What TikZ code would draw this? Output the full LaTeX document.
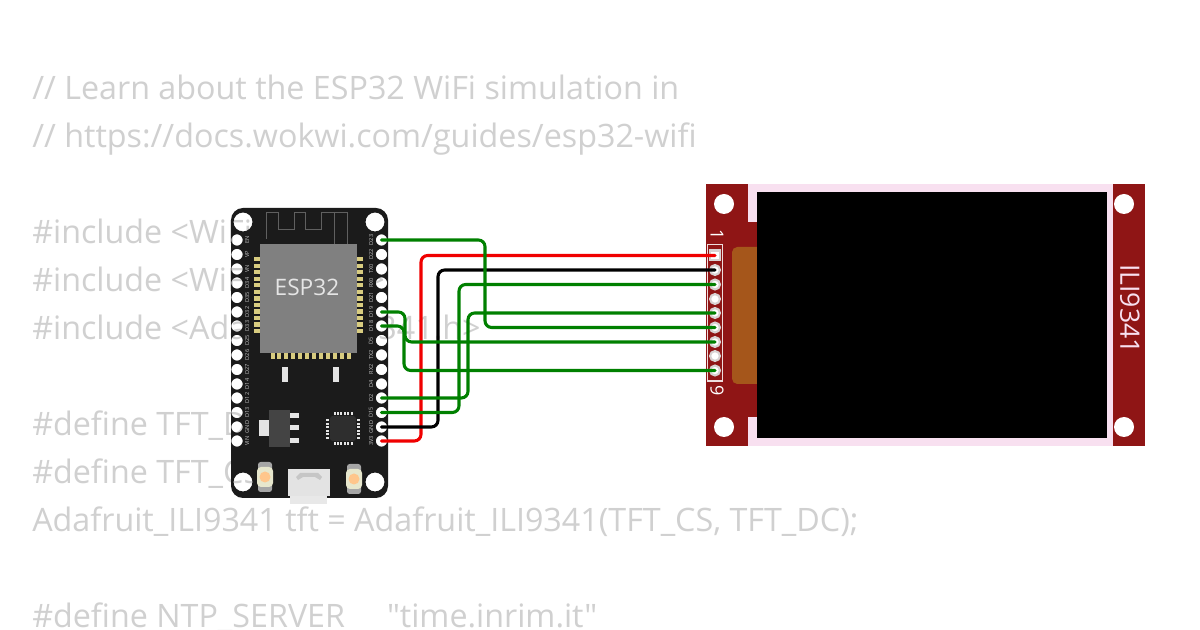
\documentclass[tikz,border=0pt]{standalone}
\usepackage{fontspec}
\setmainfont{Open Sans}
\newfontfamily\codefont{Open Sans}
\definecolor{codegray}{HTML}{D0D0D0}
\definecolor{boardblack}{HTML}{1B1B1B}
\definecolor{chipgray}{HTML}{808080}
\definecolor{goldpad}{HTML}{D8CC80}
\definecolor{wiregreen}{HTML}{008000}
\definecolor{wirered}{HTML}{F00000}
\definecolor{pcbred}{HTML}{8F1515}
\definecolor{framepink}{HTML}{F8E0F0}
\definecolor{patchorange}{HTML}{A5561B}
\definecolor{regdark}{HTML}{444444}
\definecolor{partlight}{HTML}{E4E4E4}
\definecolor{ringgray}{HTML}{D8D2D2}
\tikzset{
  x=0.75pt,y=-0.75pt,
  codeline/.style={anchor=base west,inner sep=0,text=codegray,font=\codefont\fontsize{24.2pt}{24.2pt}\selectfont},
  pinhole/.style={circle,inner sep=0,minimum size=8.4pt},
  tftpin/.style={circle,fill=white,draw=ringgray,line width=1.6pt,inner sep=0,minimum size=7.4pt},
  pinlabel/.style={text=white!75!black,inner sep=0,rotate=90,font=\fontsize{4.2pt}{4.2pt}\selectfont},
  wire/.style={line width=2.3pt,rounded corners=5pt,line cap=round},
  gpad/.style={fill=goldpad},
  trace/.style={draw=regdark!85!white,line width=0.7pt},
}
\begin{document}
\begin{tikzpicture}
\useasboundingbox (0,0) rectangle (1200,630);
\fill[white] (0,0) rectangle (1200,630);
% code text behind the parts
\foreach \yy/\tt in {100/{// Learn about the ESP32 WiFi simulation in},148/{// https://docs.wokwi.com/guides/esp32-wifi},244/{\#include <WiFi.h>},292/{\#include <WiFiClient.h>},340/{\#include <Adafruit\_ILI9341.h>},436/{\#define TFT\_DC 2},484/{\#define TFT\_CS 15},532/{Adafruit\_ILI9341 tft = Adafruit\_ILI9341(TFT\_CS, TFT\_DC);},628/{\#define NTP\_SERVER\ \ \ \ \ "time.inrim.it"}}
  \node[codeline] at (32,\yy) {\tt};
% ESP32 board, its holes let the text behind show
\fill[boardblack,even odd rule,rounded corners=9pt] (231,208) rectangle (388,498)
  [sharp corners]
  (243,222) circle (9.5) (375,222) circle (9.5) (243,482) circle (9.5) (375,482) circle (9.5)
  \foreach \yy in {240,254.5,269,283,297.5,312,326,340.5,355,369.5,384,398,412.5,427,441} {
    (237,\yy) circle (5.7) (381.5,\yy) circle (5.7)
  };
% antenna trace
\draw[trace] (266,239) -- (266,212) -- (278,212) -- (278,229) -- (294,229) -- (294,212) -- (305,212) -- (305,229) -- (321,229) -- (321,212) -- (347,212) -- (347,244);
\draw[trace] (334,212) -- (334,244);
% module pads
\foreach \i in {0,...,11} {
  \fill[gpad] (254,{257+\i*6.55}) rectangle (260,{261.3+\i*6.55});
  \fill[gpad] (357,{257+\i*6.55}) rectangle (363,{261.3+\i*6.55});
}
\foreach \i in {0,...,11}
  \fill[gpad] ({270.5+\i*6.95},353) rectangle ({274.5+\i*6.95},359);
\fill[chipgray] (260,244) rectangle (357,353);
\node[inner sep=0,text=white!80!gray,font=\fontsize{17pt}{17pt}\selectfont] (chiplabel) at (307,287) {ESP32};
% left and right pins
\foreach \n/\yy/\lb in {l1/240/EN,l2/254.5/VP,l3/269/VN,l4/283/D34,l5/297.5/D35,l6/312/D32,l7/326/D33,l8/340.5/D25,l9/355/D26,l10/369.5/D27,l11/384/D14,l12/398/D12,l13/412.5/D13,l14/427/GND,l15/441/VIN} {
  \node[pinhole] (\n) at (237,\yy) {};
  \node[pinlabel] at (247,\yy) {\lb};
}
\foreach \n/\yy/\lb in {r1/240/D23,r2/254.5/D22,r3/269/TX0,r4/283/RX0,r5/297.5/D21,r6/312/D19,r7/326/D18,r8/340.5/D5,r9/355/TX2,r10/369.5/RX2,r11/384/D4,r12/398/D2,r13/412.5/D15,r14/427/GND,r15/441/3V3} {
  \node[pinhole] (\n) at (381.5,\yy) {};
  \node[pinlabel] at (371,\yy) {\lb};
}
% small parts
\fill[partlight] (282,367) rectangle (288,382);
\fill[partlight] (333,367) rectangle (339,382);
\fill[regdark] (269,410) rectangle (290,447);
\fill[partlight] (259,420) rectangle (269,436);
\fill[partlight] (290,413) rectangle (299,418);
\fill[partlight] (290,425) rectangle (299,430);
\fill[partlight] (290,438) rectangle (299,443);
\fill[black!82!white,rounded corners=2pt] (330,416) rectangle (356,441);
\foreach \i in {0,...,5} {
  \fill[partlight] ({333.5+\i*3.4},412) rectangle ({335.5+\i*3.4},415);
  \fill[partlight] ({333.5+\i*3.4},442) rectangle ({335.5+\i*3.4},445);
}
\foreach \i in {0,...,5} {
  \fill[partlight] (326,{419+\i*3.6}) rectangle (329,{421+\i*3.6});
  \fill[partlight] (357,{419+\i*3.6}) rectangle (360,{421+\i*3.6});
}
% buttons
\foreach \xx/\yy in {265/477,354/479} {
  \fill[gray!70,rounded corners=2pt] (\xx-7,\yy-15) rectangle (\xx+7,\yy+15);
  \fill[partlight!90!yellow,rounded corners=3pt] (\xx-8,\yy-10) rectangle (\xx+8,\yy+10);
  \fill[orange!45!white] (\xx,\yy) circle (5.5);
}
% USB
\fill[white!78!gray] (288,469) rectangle (330,496);
\fill[white!82!gray] (290,496) rectangle (327,504);
\fill[white!55!gray] (296,477) -- (300,473) -- (318,473) -- (322,477) -- (320,480) -- (315,477) -- (303,477) -- (298,480) -- cycle;
% display
\fill[pcbred] (706,184) rectangle (1145,446);
\fill[patchorange,rounded corners=4pt] (732,247) rectangle (775,384);
\fill[framepink] (748,184) rectangle (1113,222);
\fill[framepink] (748,417) rectangle (1113,446);
\fill[framepink] (757,184) rectangle (1113,446);
\fill[black] (757,192) rectangle (1107,438);
\node[circle,fill=white,inner sep=0,minimum size=15pt] (th1) at (724,204) {};
\node[circle,fill=white,inner sep=0,minimum size=15pt] (th2) at (724,427) {};
\node[circle,fill=white,inner sep=0,minimum size=15pt] (th3) at (1124,204) {};
\node[circle,fill=white,inner sep=0,minimum size=15pt] (th4) at (1124,427) {};
\draw[white!85!pcbred,line width=0.8pt] (707.5,244.5) rectangle (722.5,381);
\node[inner sep=0,text=white,rotate=-90,font=\fontsize{13.5pt}{13.5pt}\selectfont] (t1) at (717,235) {1};
\node[inner sep=0,text=white,rotate=-90,font=\fontsize{13.5pt}{13.5pt}\selectfont] (t9) at (717,391) {9};
\node[inner sep=0,text=framepink,rotate=-90,font=\fontsize{20pt}{20pt}\selectfont] (tname) at (1130,309) {ILI9341};
\node[fill=white,draw=ringgray,line width=1.6pt,inner sep=0,minimum size=7.4pt] (p1) at (715,255.5) {};
\foreach \n/\yy in {p2/270,p3/284.5,p4/299,p5/313,p6/327.5,p7/342,p8/356,p9/370.5}
  \node[tftpin] (\n) at (715,\yy) {};
% wires
\draw[wire,wirered] (r15.center) -- (421,441) -- (421,255.5) -- (p1.center);
\draw[wire,black] (r14.center) -- (438,427) -- (438,270) -- (p2.center);
\draw[wire,wiregreen] (r13.center) -- (459,412.5) -- (459,284.5) -- (p3.center);
\draw[wire,wiregreen] (r12.center) -- (468,398) -- (468,313) -- (p5.center);
\draw[wire,wiregreen] (r7.center) -- (404,326) -- (404,370.5) -- (p9.center);
\draw[wire,wiregreen] (r6.center) -- (405,312) -- (405,342) -- (p7.center);
\draw[wire,wiregreen] (r1.center) -- (485,240) -- (485,327.5) -- (p6.center);
\end{tikzpicture}
\end{document}
